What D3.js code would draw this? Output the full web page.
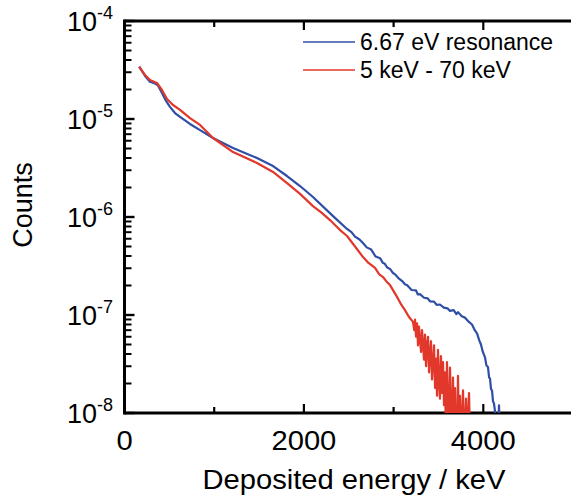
<!DOCTYPE html>
<html>
<head>
<meta charset="utf-8">
<script src="https://cdn.jsdelivr.net/npm/d3@7/dist/d3.min.js"></script>
<style>
  html, body { margin: 0; padding: 0; background: #fff; }
  svg { display: block; font-family: "Liberation Sans", Arial, sans-serif; }
</style>
</head>
<body>
<svg id="chart" width="571" height="499"></svg>
<script>
// ---- data ----
const seriesNames = ["6.67 eV resonance", "5 keV - 70 keV"];
const seriesColors = ["#2f4fa6", "#e2382b"];

const blueEnergy = [165,229,284,340,373,418,463,507,563,619,730,842,987,1210,1477,1656,1812,1957,2101,2325,2481,2530,2570,2620,2659,2700,2750,2800,2849,2880,2900,2930,2960,2990,3016,3060,3100,3130,3149,3200,3250,3270,3294,3340,3380,3406,3450,3480,3517,3560,3600,3629,3670,3700,3718,3760,3796,3840,3874,3905,3930,3955,3974,3995,4019,4035,4052,4065,4075,4086,4097,4108,4119,4130,4142,4160,4175,4185];
const blueCounts = [3.42e-5,2.75e-5,2.40e-5,2.30e-5,2.20e-5,1.84e-5,1.53e-5,1.33e-5,1.15e-5,1.05e-5,8.9e-6,7.7e-6,6.4e-6,5.06e-6,4.0e-6,3.31e-6,2.62e-6,2.07e-6,1.6e-6,1.02e-6,7.55e-7,7.0e-7,6.3e-7,5.9e-7,5.43e-7,4.9e-7,4.65e-7,3.95e-7,3.8e-7,3.4e-7,3.35e-7,3.05e-7,2.95e-7,2.7e-7,2.6e-7,2.35e-7,2.2e-7,2.05e-7,2.02e-7,1.8e-7,1.78e-7,1.62e-7,1.63e-7,1.5e-7,1.48e-7,1.38e-7,1.37e-7,1.27e-7,1.28e-7,1.19e-7,1.17e-7,1.1e-7,1.12e-7,1.02e-7,1.07e-7,9.7e-8,9.4e-8,8.5e-8,8.0e-8,7.0e-8,6.5e-8,5.5e-8,5.0e-8,4.2e-8,3.7e-8,3.05e-8,2.95e-8,2.3e-8,2.25e-8,1.75e-8,1.7e-8,1.32e-8,1.25e-8,1.05e-8,5e-9,5e-9,1.2e-8,5e-9];

const redEnergy = [162,229,284,362,418,474,541,619,730,842,987,1210,1477,1656,1812,1957,2101,2200,2291,2400,2481,2570,2659,2720,2793,2840,2882,2920,2960,3000,3038,3080,3127,3170,3216,3230,3239,3250,3262,3272,3283,3295,3306,3317,3330,3339,3350,3362,3373,3384,3395,3406,3417,3428,3439,3451,3462,3473,3484,3495,3506,3517,3528,3540,3551,3562,3573,3584,3595,3607,3618,3629,3640,3651,3662,3674,3685,3696,3707,3718,3729,3740,3752,3774,3785,3808,3819,3841,3852];
const redCounts = [3.4e-5,2.81e-5,2.5e-5,2.33e-5,1.98e-5,1.6e-5,1.39e-5,1.24e-5,1.02e-5,8.7e-6,6.4e-6,4.6e-6,3.56e-6,2.88e-6,2.22e-6,1.72e-6,1.29e-6,1.1e-6,9.3e-7,7.4e-7,6.4e-7,5.0e-7,3.9e-7,3.4e-7,3.02e-7,2.6e-7,2.44e-7,2.2e-7,2.02e-7,1.75e-7,1.53e-7,1.3e-7,1.12e-7,9.6e-8,8.5e-8,7.0e-8,9.0e-8,6.0e-8,8.2e-8,4.9e-8,7.6e-8,5.5e-8,4.2e-8,7.0e-8,4.6e-8,3.5e-8,6.3e-8,3.0e-8,5.0e-8,6.0e-8,2.6e-8,4.0e-8,5.4e-8,2.2e-8,3.2e-8,4.9e-8,1.8e-8,3.6e-8,1.5e-8,4.4e-8,2.1e-8,1.4e-8,3.8e-8,1.6e-8,3.3e-8,1.2e-8,2.6e-8,5e-9,3.3e-8,1.3e-8,5e-9,2.9e-8,1.1e-8,5e-9,2.3e-8,5e-9,1.8e-8,5e-9,5e-9,2.4e-8,5e-9,1.5e-8,5e-9,1.7e-8,5e-9,1.4e-8,5e-9,1.6e-8,5e-9];

const xTickValues = [0, 1000, 2000, 3000, 4000, 5000];
const xTickLabels = ["0", "", "2000", "", "4000", ""];
const yDecadeExps = [-4, -5, -6, -7, -8];
const xTitle = "Deposited energy / keV";
const yTitle = "Counts";

// ---- layout ----
const svg = d3.select("#chart");
const L = 124.5, R = 573, T = 21, B = 413;
const x = d3.scaleLinear().domain([0, 5000]).range([L, R]);
const y = d3.scaleLog().domain([1e-8, 1e-4]).range([B, T]);
const SX = 1.08;

svg.append("defs").append("clipPath").attr("id", "clip")
  .append("rect").attr("x", L).attr("y", T).attr("width", R - L).attr("height", B - T);

const yMinor = [];
yDecadeExps.slice(1).forEach(e => { for (let m = 2; m <= 9; m++) yMinor.push(m * Math.pow(10, e)); });
const yMajor = yDecadeExps.map(e => Math.pow(10, e));

const g = svg.append("g");
g.selectAll(".ymaj").data(yMajor).join("line")
  .attr("x1", L).attr("x2", L + 10).attr("y1", d => y(d)).attr("y2", d => y(d))
  .attr("stroke", "#000").attr("stroke-width", 2.4);
g.selectAll(".ymin").data(yMinor).join("line")
  .attr("x1", L).attr("x2", L + 7).attr("y1", d => y(d)).attr("y2", d => y(d))
  .attr("stroke", "#000").attr("stroke-width", 2);

xTickValues.forEach((v, i) => {
  const len = (i % 2 === 0) ? 9 : 6;
  g.append("line").attr("x1", x(v)).attr("x2", x(v)).attr("y1", B).attr("y2", B - len)
    .attr("stroke", "#000").attr("stroke-width", 2.2);
  g.append("line").attr("x1", x(v)).attr("x2", x(v)).attr("y1", T).attr("y2", T + len)
    .attr("stroke", "#000").attr("stroke-width", 2.2);
});

g.append("line").attr("x1", L).attr("x2", L).attr("y1", T - 1.5).attr("y2", B + 1.5)
  .attr("stroke", "#000").attr("stroke-width", 3);
g.append("line").attr("x1", L).attr("x2", 571).attr("y1", B).attr("y2", B)
  .attr("stroke", "#000").attr("stroke-width", 3);
g.append("line").attr("x1", L).attr("x2", 571).attr("y1", T).attr("y2", T)
  .attr("stroke", "#000").attr("stroke-width", 3);

const line = d3.line().x(d => x(d[0])).y(d => y(d[1]));
const seriesData = [
  d3.zip(blueEnergy, blueCounts),
  d3.zip(redEnergy, redCounts)
];
const plot = svg.append("g").attr("clip-path", "url(#clip)");
seriesData.forEach((pts, i) => {
  plot.append("path").datum(pts).attr("d", line)
    .attr("fill", "none").attr("stroke", seriesColors[i])
    .attr("stroke-width", 2.2).attr("stroke-linejoin", "round");
});

xTickValues.forEach((v, i) => {
  if (!xTickLabels[i]) return;
  svg.append("text").attr("transform", `translate(${x(v)},450) scale(${SX},1)`)
    .attr("text-anchor", "middle").attr("font-size", 27).text(xTickLabels[i]);
});

yDecadeExps.forEach(e => {
  const t = svg.append("text").attr("x", 113).attr("y", y(Math.pow(10, e)) + 10)
    .attr("text-anchor", "end").attr("font-size", 27);
  t.append("tspan").text("10");
  t.append("tspan").attr("font-size", 18).attr("dy", -12).text("-" + Math.abs(e));
});

svg.append("text").attr("transform", `translate(354,489) scale(${SX},1)`).attr("text-anchor", "middle")
  .attr("font-size", 27).text(xTitle);
svg.append("text").attr("transform", "translate(32,205) rotate(-90)")
  .attr("text-anchor", "middle").attr("font-size", 27).text(yTitle);

seriesNames.forEach((name, i) => {
  const yy = 42 + i * 28;
  svg.append("line").attr("x1", 303).attr("x2", 355).attr("y1", yy).attr("y2", yy)
    .attr("stroke", seriesColors[i]).attr("stroke-width", 1.5);
  svg.append("text").attr("x", 360).attr("y", yy + 8).attr("font-size", 23).text(name);
});
</script>
</body>
</html>
